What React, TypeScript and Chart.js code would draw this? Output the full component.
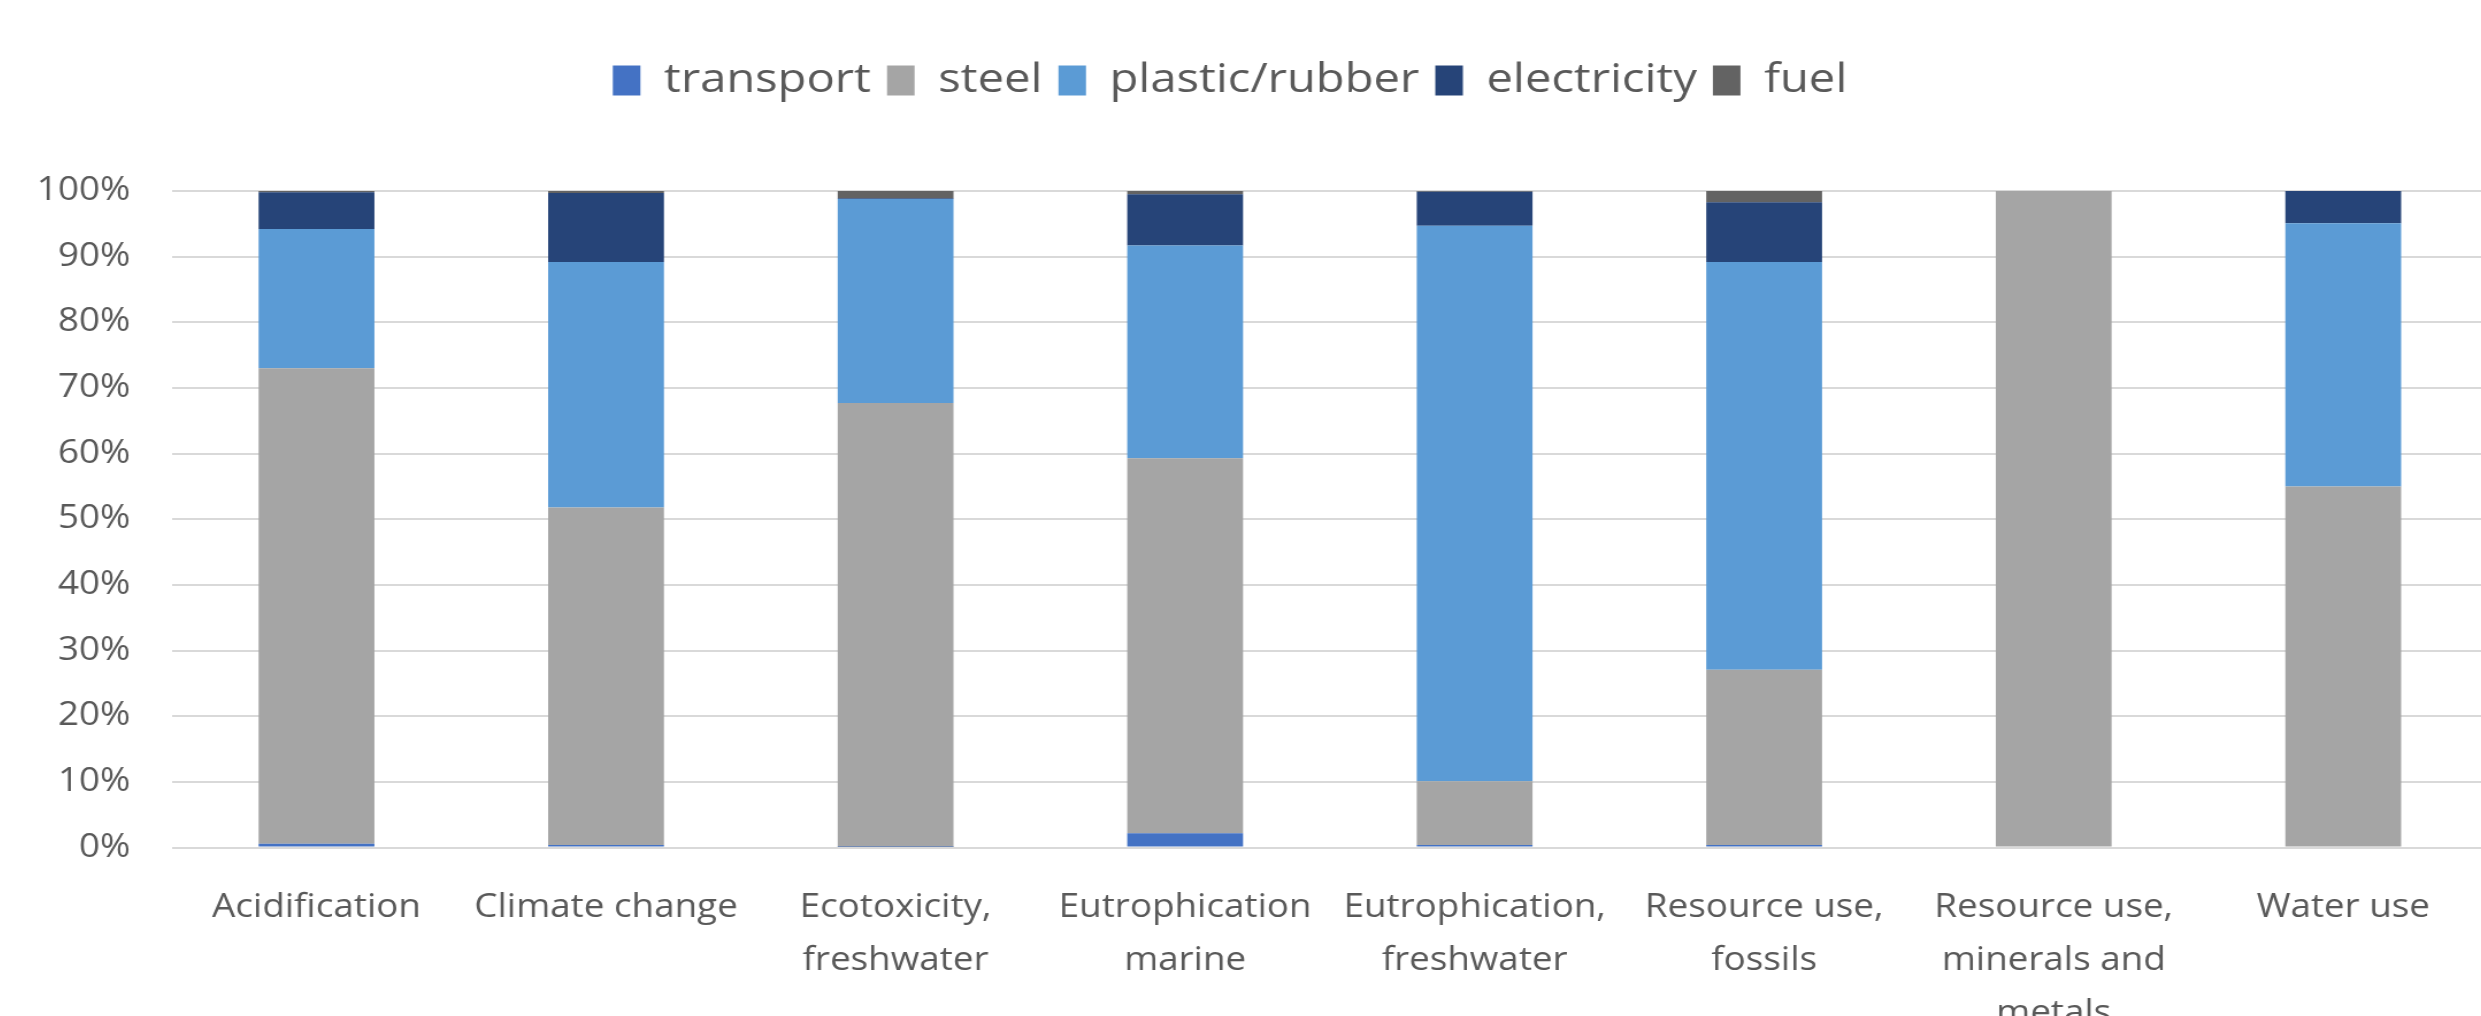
import React, { useEffect, useRef } from "react";
import { Chart, registerables } from "chart.js";

Chart.register(...registerables);

const categories: string[][] = [
  ["Acidification"],
  ["Climate change"],
  ["Ecotoxicity,", "freshwater"],
  ["Eutrophication", "marine"],
  ["Eutrophication,", "freshwater"],
  ["Resource use,", "fossils"],
  ["Resource use,", "minerals and", "metals"],
  ["Water use"],
];

const transport = [0.6, 0.4, 0.1, 2.2, 0.4, 0.4, 0, 0];
const steel = [72.4, 51.4, 67.6, 57.1, 9.7, 26.7, 100, 55.0];
const plastic = [21.2, 37.4, 31.1, 32.4, 84.6, 62.1, 0, 40.1];
const electricity = [5.6, 10.5, 0.1, 7.8, 5.2, 9.1, 0, 4.9];
const fuel = [0.2, 0.3, 1.1, 0.5, 0.1, 1.7, 0, 0];

const seriesNames = ["transport", "steel", "plastic/rubber", "electricity", "fuel"];
const seriesColors = ["#4472C4", "#A5A5A5", "#5B9BD5", "#264478", "#636363"];

// horizontal stretch of the rendered bitmap (reference text is widened)
const STRETCH = 1.15;
const CSS_W = 2516;
const INT_W = Math.round(CSS_W / STRETCH);
const H = 1075;
const LEFT = -28;
const Y_AXIS_W = 173.7;
const LEGEND_EXTRA = 80;

const FONT = "'Open Sans', sans-serif";
const TEXT = "#595959";

export default function App() {
  const ref = useRef<HTMLCanvasElement | null>(null);

  useEffect(() => {
    const canvas = ref.current;
    if (!canvas) return;
    const spacer = {
      id: "legendSpacer",
      beforeInit(chart: any) {
        const legend = chart.legend;
        if (!legend || legend.__patched) return;
        const orig = legend.fit;
        legend.fit = function () {
          orig.call(this);
          this.height += LEGEND_EXTRA;
        };
        legend.__patched = true;
      },
    };
    const values = [transport, steel, plastic, electricity, fuel];
    const chart = new Chart(canvas, {
      type: "bar",
      data: {
        labels: categories,
        datasets: seriesNames.map((name, i) => ({
          label: name,
          data: values[i],
          backgroundColor: seriesColors[i],
          borderWidth: 0,
          barPercentage: 0.4,
          categoryPercentage: 1.0,
        })),
      },
      options: {
        responsive: false,
        animation: false,
        devicePixelRatio: 1,
        layout: { padding: { top: 46, bottom: 9, left: 0, right: 0 } },
        plugins: {
          legend: {
            position: "top",
            labels: {
              boxWidth: 24,
              boxHeight: 30,
              padding: 14,
              color: TEXT,
              font: { family: FONT, size: 41 },
            },
          },
          tooltip: { enabled: false },
        },
        scales: {
          x: {
            stacked: true,
            grid: { display: false },
            border: { display: false },
            ticks: {
              color: TEXT,
              padding: 26,
              maxRotation: 0,
              autoSkip: false,
              font: { family: FONT, size: 32, lineHeight: 1.65 },
            },
          },
          y: {
            stacked: true,
            min: 0,
            max: 100,
            afterFit: (scale: any) => {
              scale.width = Y_AXIS_W;
            },
            grid: { color: "#D9D9D9", lineWidth: 2, drawTicks: false },
            border: { display: false },
            ticks: {
              stepSize: 10,
              color: TEXT,
              padding: 36,
              font: { family: FONT, size: 32 },
              callback: (v: any) => `${v}%`,
            },
          },
        },
      },
      plugins: [spacer],
    } as any);
    return () => chart.destroy();
  }, []);

  return (
    <div
      style={{
        position: "fixed",
        left: 0,
        top: 0,
        width: "2481px",
        height: "1016px",
        overflow: "hidden",
        background: "#ffffff",
      }}
    >
      <canvas
        ref={ref}
        width={INT_W}
        height={H}
        style={{
          position: "absolute",
          left: `${LEFT}px`,
          top: 0,
          width: `${CSS_W}px`,
          height: `${H}px`,
          display: "block",
        }}
      />
    </div>
  );
}
